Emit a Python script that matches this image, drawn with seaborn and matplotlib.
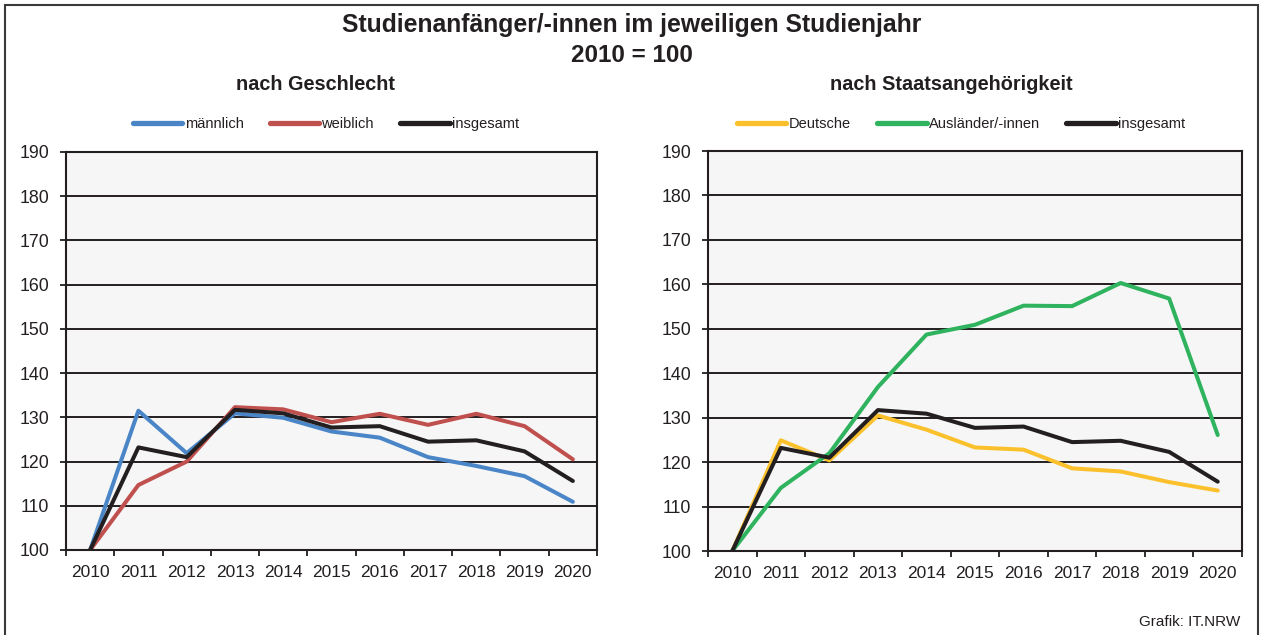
import numpy as np
import pandas as pd
import matplotlib
matplotlib.use("Agg")
import matplotlib.pyplot as plt
import seaborn as sns
from matplotlib.patches import Rectangle

# Daten (Index 2010 = 100)
jahre = [str(j) for j in range(2010, 2021)]
maennlich = [100, 131.5, 121.9, 130.9, 129.9, 126.8, 125.4, 121.0, 119.0, 116.7, 110.9]
weiblich = [100, 114.7, 120.0, 132.3, 131.8, 128.9, 130.8, 128.3, 130.8, 128.0, 120.5]
insgesamt = [100, 123.2, 121.0, 131.7, 130.9, 127.7, 128.0, 124.5, 124.8, 122.3, 115.6]
deutsche = [100, 124.9, 120.4, 130.5, 127.3, 123.3, 122.8, 118.6, 117.9, 115.5, 113.6]
auslaender = [100, 114.2, 122.0, 136.9, 148.7, 150.9, 155.2, 155.1, 160.3, 156.8, 126.1]

farbe_m = "#4a86c7"
farbe_w = "#c0504d"
farbe_ges = "#231f20"
farbe_de = "#fbc12d"
farbe_aus = "#2fb35e"

sns.set_style("white")
plt.rcParams['font.family'] = ['Liberation Sans', 'DejaVu Sans']
plt.rcParams['text.color'] = '#231f20'
plt.rcParams['xtick.color'] = '#231f20'
plt.rcParams['ytick.color'] = '#231f20'

fig = plt.figure(figsize=(12.64, 6.35), dpi=100)
ax1 = fig.add_axes([66/1264, 1-550/635, 531/1264, 398/635])
ax2 = fig.add_axes([708/1264, 1-551/635, 534/1264, 400/635])

pos = np.arange(len(jahre))


def zeichne(ax, reihen, legende_x):
    for name, werte, farbe in reihen:
        sns.lineplot(x=pos, y=werte, ax=ax, color=farbe, label=name, linewidth=2.9,
                     solid_joinstyle='round', solid_capstyle='round')
    ax.set_facecolor('#f6f6f6')
    ax.set_xlim(-0.5, len(jahre) - 0.5)
    ax.set_ylim(100, 190)
    ax.set_yticks(np.arange(100, 191, 10))
    ax.set_xticks(pos)
    ax.set_xticklabels(jahre)
    ax.set_xticks(np.arange(-0.5, len(jahre), 1), minor=True)
    ax.tick_params(axis='x', which='major', length=0, pad=11, labelsize=12.5)
    ax.tick_params(axis='x', which='minor', length=4.5, width=1.3, direction='out', bottom=True)
    ax.tick_params(axis='y', length=4.5, width=1.3, direction='out', left=True, pad=7.5, labelsize=12.8)
    ax.grid(axis='y', color='#231f20', linewidth=1.4)
    ax.set_axisbelow(True)
    for s in ax.spines.values():
        s.set_color('#231f20')
        s.set_linewidth(1.5)
    ax.set_xlabel('')
    ax.set_ylabel('')
    leg = ax.legend(loc='center', bbox_to_anchor=(legende_x, 1-124/635),
                    bbox_transform=fig.transFigure, ncol=3, frameon=False,
                    fontsize=10.5, handlelength=3.4, handletextpad=0.15,
                    columnspacing=1.8)
    for h in leg.get_lines():
        h.set_linewidth(3.8)


zeichne(ax1, [('männlich', maennlich, farbe_m),
              ('weiblich', weiblich, farbe_w),
              ('insgesamt', insgesamt, farbe_ges)], 326/1264)
zeichne(ax2, [('Deutsche', deutsche, farbe_de),
              ('Ausländer/-innen', auslaender, farbe_aus),
              ('insgesamt', insgesamt, farbe_ges)], 961/1264)

fig.text(0.5, 1-25/635, 'Studienanfänger/-innen im jeweiligen Studienjahr',
         ha='center', va='center', fontsize=17.8, fontweight='bold')
fig.text(0.5, 1-55/635, '2010 = 100', ha='center', va='center', fontsize=17.5, fontweight='bold')
fig.text(316/1264, 1-85/635, 'nach Geschlecht', ha='center', va='center', fontsize=14.3, fontweight='bold')
fig.text(951/1264, 1-85/635, 'nach Staatsangehörigkeit', ha='center', va='center', fontsize=14.3, fontweight='bold')
fig.text(1240/1264, 1-622/635, 'Grafik: IT.NRW', ha='right', va='center', fontsize=11)

# Rahmen um die Grafik
fig.patches.append(Rectangle((5/1264, -0.05), 1253/1264, 1.05 - 5/635, transform=fig.transFigure,
                             fill=False, edgecolor='#3a3a3a', linewidth=1.5))

fig.savefig('out.png', dpi=100)
